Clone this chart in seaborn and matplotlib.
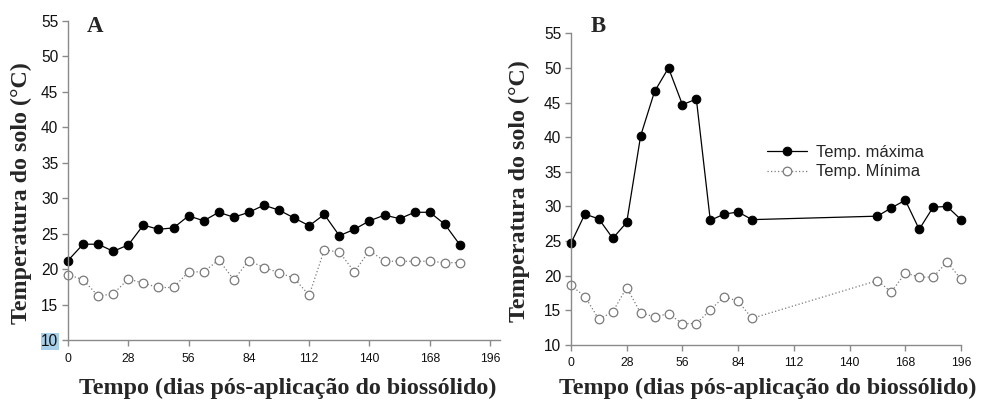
import matplotlib
matplotlib.use("Agg")
import matplotlib.pyplot as plt
import seaborn as sns
import numpy as np

# ---- data ----
days_a = [0, 7, 14, 21, 28, 35, 42, 49, 56, 63, 70, 77, 84, 91, 98, 105, 112,
          119, 126, 133, 140, 147, 154, 161, 168, 175, 182]
tmax_a = [21.2, 23.5, 23.5, 22.5, 23.4, 26.2, 25.6, 25.8, 27.5, 26.8, 28.0, 27.3,
          28.0, 29.0, 28.3, 27.2, 26.1, 27.7, 24.7, 25.6, 26.8, 27.6, 27.1, 28.0,
          28.0, 26.3, 23.4]
tmin_a = [19.2, 18.5, 16.2, 16.5, 18.6, 18.0, 17.4, 17.4, 19.6, 19.6, 21.3, 18.5,
          21.2, 20.2, 19.5, 18.7, 16.3, 22.7, 22.4, 19.6, 22.6, 21.1, 21.1, 21.1,
          21.1, 20.9, 20.9]

days_b = [0, 7, 14, 21, 28, 35, 42, 49, 56, 63, 70, 77, 84, 91,
          154, 161, 168, 175, 182, 189, 196]
tmax_b = [24.7, 28.9, 28.2, 25.4, 27.7, 40.2, 46.6, 50.0, 44.7, 45.5, 28.0, 28.9,
          29.2, 28.1, 28.6, 29.8, 30.9, 26.7, 29.9, 30.0, 28.1]
tmin_b = [18.6, 17.0, 13.7, 14.8, 18.3, 14.6, 14.1, 14.5, 13.1, 13.1, 15.05, 17.0,
          16.3, 13.85, 19.3, 17.65, 20.4, 19.8, 19.8, 22.0, 19.5]

xticks = [0, 28, 56, 84, 112, 140, 168, 196]
yticks = [10, 15, 20, 25, 30, 35, 40, 45, 50, 55]
label_max = "Temp. máxima"
label_min = "Temp. Mínima"
ylabel = "Temperatura do solo (°C)"
xlabel = "Tempo (dias pós-aplicação do biossólido)"

sns.set_theme(style="white")
plt.rcParams['font.family'] = ['Liberation Sans', 'DejaVu Sans']

W, H = 981, 401
fig = plt.figure(figsize=(W / 100, H / 100), dpi=100)

def fx(px):
    return px / W

def fy(py):
    return 1 - py / H

axA = fig.add_axes([fx(68), fy(340), fx(500) - fx(68), fy(20.7) - fy(340)])
axB = fig.add_axes([fx(571), fy(345), fx(961) - fx(571), fy(33.3) - fy(345)])

spine_col = "#8a8a8a"
gray = "#7a7a7a"

def draw(ax, days, tmax, tmin, xmax, show_legend=False):
    sns.lineplot(x=days, y=tmax, ax=ax, color="black", linewidth=0.9,
                 marker="o", markersize=6.2, markerfacecolor="black",
                 markeredgecolor="black", label=label_max, sort=False)
    sns.lineplot(x=days, y=tmin, ax=ax, color=gray, linewidth=0.9,
                 linestyle=(0, (1, 1.8)), marker="o", markersize=6.2,
                 markerfacecolor="white", markeredgecolor=gray,
                 markeredgewidth=0.9, label=label_min, sort=False)
    ax.set_xlim(0, xmax)
    ax.set_ylim(10, 55)
    ax.set_xticks(xticks)
    ax.set_yticks(yticks)
    ax.set_xticklabels([str(t) for t in xticks], fontsize=8.7, color="#111111")
    ax.set_yticklabels([str(t) for t in yticks], fontsize=11.2, color="#111111")
    for s in ["top", "right"]:
        ax.spines[s].set_visible(False)
    for s in ["left", "bottom"]:
        ax.spines[s].set_color(spine_col)
        ax.spines[s].set_linewidth(1.0)
    ax.tick_params(axis="both", direction="out", length=4, width=1.0,
                   color=spine_col, left=True, bottom=True)
    ax.tick_params(axis="x", pad=5)
    ax.tick_params(axis="y", pad=3)
    ax.set_xlabel("")
    ax.set_ylabel("")
    ax.patch.set_alpha(0)
    for ln in ax.lines:
        ln.set_clip_on(False)
    if show_legend:
        ax.legend(loc="center left", bbox_to_anchor=(fx(767), fy(162)),
                  bbox_transform=fig.transFigure, frameon=False,
                  fontsize=11.9, handlelength=2.4, handletextpad=0.55,
                  borderpad=0, borderaxespad=0, labelspacing=0.3)
    else:
        leg = ax.get_legend()
        if leg is not None:
            leg.remove()

draw(axA, days_a, tmax_a, tmin_a, 200.6)
draw(axB, days_b, tmax_b, tmin_b, 196, show_legend=True)

# highlighted "10" tick label in panel A (as in the reference)
for lbl in axA.get_yticklabels():
    if lbl.get_text() == "10":
        lbl.set_bbox(dict(facecolor="#a9d0ea", edgecolor="none", pad=0.5))

serif = ['Liberation Serif', 'DejaVu Serif']
fs_lab = 17.3
fig.text(fx(21), fy(193), ylabel, rotation=90, ha="center", va="center",
         fontsize=fs_lab, fontweight="bold", family=serif)
fig.text(fx(519), fy(191), ylabel, rotation=90, ha="center", va="center",
         fontsize=fs_lab, fontweight="bold", family=serif)
fig.text(fx(288), fy(388), xlabel, ha="center", va="center",
         fontsize=fs_lab, fontweight="bold", family=serif)
fig.text(fx(768), fy(388), xlabel, ha="center", va="center",
         fontsize=fs_lab, fontweight="bold", family=serif)
fig.text(fx(95), fy(27), "A", ha="center", va="center",
         fontsize=16.5, fontweight="bold", family=serif)
fig.text(fx(598), fy(27), "B", ha="center", va="center",
         fontsize=16.5, fontweight="bold", family=serif)

fig.savefig("out.png", dpi=100)
